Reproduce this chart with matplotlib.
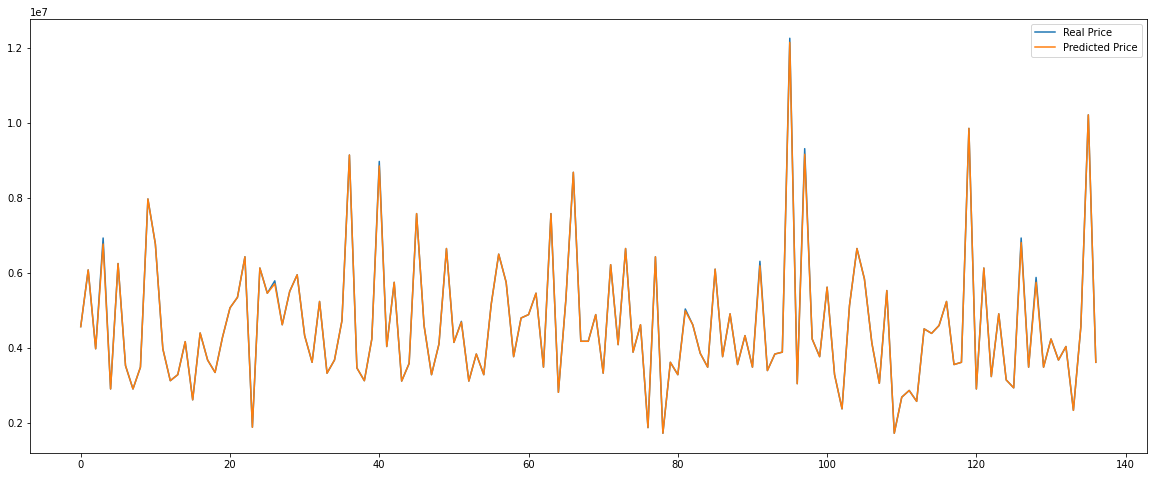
import numpy as np
import matplotlib
matplotlib.use("Agg")
import matplotlib.pyplot as plt

# values in millions
real_price = [
    4.58, 6.09, 3.99, 6.94, 2.92, 6.26, 3.54, 2.92, 3.50, 7.98,
    6.78, 3.99, 3.14, 3.30, 4.18, 2.63, 4.41, 3.69, 3.36, 4.30,
    5.08, 5.36, 6.44, 1.90, 6.14, 5.47, 5.80, 4.63, 5.52, 5.96,
    4.34, 3.63, 5.25, 3.34, 3.69, 4.74, 9.15, 3.48, 3.14, 4.25,
    8.98, 4.05, 5.76, 3.13, 3.60, 7.59, 4.61, 3.30, 4.12, 6.66,
    4.16, 4.72, 3.13, 3.85, 3.30, 5.18, 6.51, 5.76, 3.78, 4.81,
    4.90, 5.47, 3.50, 7.59, 2.83, 5.30, 8.69, 4.19, 4.19, 4.90,
    3.34, 6.23, 4.10, 6.66, 3.90, 4.63, 1.89, 6.44, 1.74, 3.63,
    3.30, 5.05, 4.63, 3.87, 3.50, 6.11, 3.78, 4.92, 3.57, 4.34,
    3.50, 6.32, 3.41, 3.85, 3.90, 12.26, 3.06, 9.32, 4.25, 3.78,
    5.63, 3.30, 2.39, 5.14, 6.66, 5.85, 4.14, 3.07, 5.54, 1.74,
    2.70, 2.88, 2.59, 4.52, 4.40, 4.61, 5.25, 3.57, 3.63, 9.86,
    2.92, 6.14, 3.25, 4.92, 3.16, 2.95, 6.94, 3.50, 5.89, 3.50,
    4.25, 3.69, 4.05, 2.35, 4.58, 10.22, 3.63,
]
predicted_price = [
    4.58, 6.09, 3.99, 6.78, 2.92, 6.26, 3.54, 2.92, 3.50, 7.98,
    6.78, 3.99, 3.14, 3.30, 4.18, 2.63, 4.41, 3.69, 3.36, 4.30,
    5.08, 5.36, 6.44, 1.90, 6.14, 5.47, 5.72, 4.63, 5.52, 5.96,
    4.34, 3.63, 5.25, 3.34, 3.69, 4.74, 9.15, 3.48, 3.14, 4.25,
    8.86, 4.05, 5.76, 3.13, 3.60, 7.59, 4.61, 3.30, 4.12, 6.66,
    4.16, 4.70, 3.13, 3.85, 3.30, 5.18, 6.51, 5.76, 3.78, 4.81,
    4.90, 5.47, 3.50, 7.59, 2.83, 5.30, 8.69, 4.19, 4.19, 4.90,
    3.34, 6.23, 4.10, 6.66, 3.90, 4.63, 1.89, 6.44, 1.74, 3.63,
    3.30, 5.00, 4.63, 3.87, 3.50, 6.11, 3.78, 4.92, 3.57, 4.34,
    3.50, 6.20, 3.41, 3.85, 3.90, 12.15, 3.06, 9.17, 4.25, 3.78,
    5.63, 3.30, 2.39, 5.14, 6.66, 5.85, 4.14, 3.07, 5.54, 1.74,
    2.70, 2.88, 2.59, 4.52, 4.40, 4.61, 5.25, 3.57, 3.63, 9.86,
    2.92, 6.14, 3.25, 4.92, 3.16, 2.95, 6.82, 3.50, 5.76, 3.50,
    4.25, 3.69, 4.05, 2.35, 4.58, 10.22, 3.63,
]

real = np.array(real_price) * 1e6
pred = np.array(predicted_price) * 1e6

fig = plt.figure(figsize=(1153/72, 477/72), dpi=72)
ax = fig.add_axes([0.026, 0.0503, 0.9684, 0.9109])
ax.plot(real, label='Real Price')
ax.plot(pred, label='Predicted Price')
ax.legend()

fig.savefig('out.png', dpi=72)
